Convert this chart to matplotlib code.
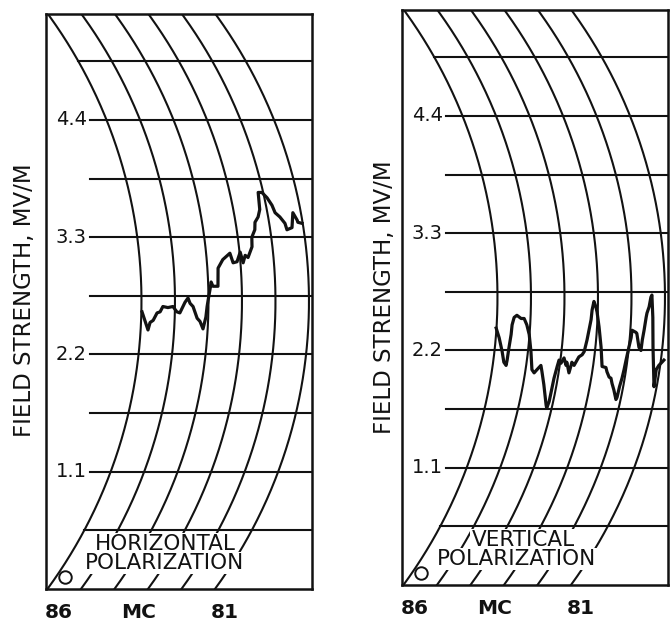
import numpy as np
import matplotlib
matplotlib.use("Agg")
import matplotlib.pyplot as plt
from matplotlib.transforms import blended_transform_factory

# ---------------- data ----------------
field_ticks = [1.1, 2.2, 3.3, 4.4]
field_tick_labels = ["1.1", "2.2", "3.3", "4.4"]
grid_levels = [0.55, 1.1, 1.65, 2.2, 2.75, 3.3, 3.85, 4.4, 4.95]
freq_marks = [86, 85, 84, 83, 82, 81]          # MC arcs of the recorder chart
bottom_labels = ["86", "MC", "81"]
bottom_label_freq = [88.47, 86.1, 83.5]

# horizontal polarization trace (frequency MC, field strength MV/M)
horiz_freq = [85.98, 85.78, 85.73, 85.64, 85.53, 85.44, 85.36, 85.21, 85.06, 84.94,
              84.85, 84.70, 84.61, 84.55, 84.46, 84.33, 84.24, 84.14, 84.07, 84.04,
              84.01, 83.95, 83.91, 83.86, 83.71, 83.68, 83.52, 83.29, 83.22, 83.10,
              82.98, 82.92, 82.84, 82.76, 82.61, 82.58, 82.46, 82.42, 82.30, 82.21,
              82.15, 82.04, 81.92, 81.82, 81.77, 81.65, 81.53, 81.50, 81.34, 81.24,
              81.15, 81.14, 81.02]
horiz_field = [2.60, 2.43, 2.50, 2.52, 2.59, 2.60, 2.65, 2.64, 2.65, 2.60,
               2.59, 2.69, 2.73, 2.68, 2.65, 2.54, 2.51, 2.44, 2.55, 2.65,
               2.71, 2.81, 2.88, 2.84, 2.84, 3.01, 3.09, 3.15, 3.06, 3.07,
               3.16, 3.06, 3.13, 3.11, 3.21, 3.30, 3.37, 3.44, 3.49, 3.56,
               3.72, 3.72, 3.67, 3.60, 3.53, 3.49, 3.43, 3.37, 3.39, 3.53,
               3.46, 3.44, 3.43]

# vertical polarization trace
vert_freq = [86.01, 85.90, 85.77, 85.68, 85.60, 85.59, 85.58, 85.55, 85.54, 85.49,
             85.41, 85.28, 85.19, 85.13, 85.10, 85.01, 84.91, 84.81, 84.73, 84.66,
             84.56, 84.50, 84.38, 84.19, 84.15, 84.12, 84.12, 84.11, 84.07, 84.04,
             83.97, 83.90, 83.81, 83.80, 83.69, 83.66, 83.65, 83.57, 83.53, 83.46,
             83.37, 83.32, 83.27, 83.19, 83.17, 83.12, 83.06, 83.02, 82.94, 82.83,
             82.73, 82.61, 82.56, 82.47, 82.41, 82.35, 82.26, 82.14, 82.12, 82.11,
             82.08, 82.06, 82.04, 82.00, 81.96, 81.95, 81.83, 81.80, 81.70, 81.63,
             81.62, 81.59, 81.55, 81.53, 81.47, 81.42, 81.39, 81.35, 81.28, 81.08,
             81.10, 81.04, 80.96, 80.91]
vert_field = [2.41, 2.32, 2.19, 2.09, 2.06, 2.11, 2.22, 2.35, 2.44, 2.51,
              2.53, 2.50, 2.50, 2.46, 2.44, 2.35, 2.19, 2.02, 1.99, 2.02,
              2.06, 2.00, 1.88, 1.69, 1.66, 1.72, 1.81, 1.94, 2.05, 2.11,
              2.08, 2.13, 2.06, 2.09, 1.99, 2.06, 2.09, 2.06, 2.09, 2.14,
              2.16, 2.19, 2.30, 2.49, 2.58, 2.66, 2.61, 2.56, 2.42, 2.23,
              2.05, 2.04, 2.00, 1.95, 1.94, 1.89, 1.83, 1.74, 1.76, 1.86,
              1.94, 2.02, 2.11, 2.23, 2.32, 2.39, 2.37, 2.36, 2.23, 2.20,
              2.30, 2.39, 2.51, 2.55, 2.61, 2.70, 2.72, 2.51, 2.23, 1.86,
              2.02, 2.06, 2.09, 2.11]

# ---------------- chart geometry ----------------
W, H = 670, 623
PX_PER_MC = 33.5
PX_PER_UNIT = 106.6
R_PX = 487.5
V_CENTER = 2.70
AX_W, AX_H = 266, 575
X_LEFT = 88.85
X_RIGHT = X_LEFT - AX_W / PX_PER_MC
Y_TOP = AX_H / PX_PER_UNIT
LINE_START = 87.55
INK = "#121212"


def arc_x(freq, v):
    dy = (np.asarray(v, dtype=float) - V_CENTER) * PX_PER_UNIT
    f = np.sqrt(R_PX ** 2 - dy ** 2) - R_PX
    return np.asarray(freq, dtype=float) - f / PX_PER_MC


fig = plt.figure(figsize=(W / 100, H / 100), dpi=100)
fig.patch.set_facecolor("white")

panels = [
    dict(left=46, bottom=589, label_x=25, label_y=300,
         title=("HORIZONTAL", "POLARIZATION"), title_freq=(85.30, 85.31),
         freq=horiz_freq, field=horiz_field),
    dict(left=402, bottom=585, label_x=385, label_y=297,
         title=("VERTICAL", "POLARIZATION"), title_freq=(85.24, 85.42),
         freq=vert_freq, field=vert_field),
]

for p in panels:
    ax = fig.add_axes([p["left"] / W, (H - p["bottom"]) / H, AX_W / W, AX_H / H])
    ax.set_xlim(X_LEFT, X_RIGHT)
    ax.set_ylim(0, Y_TOP)
    ax.set_xticks([])
    ax.set_yticks([])
    for s in ax.spines.values():
        s.set_linewidth(1.8)
        s.set_color(INK)

    # curved frequency arcs
    vv = np.linspace(0, Y_TOP, 400)
    for fm in freq_marks:
        ax.plot(arc_x(fm, vv), vv, color=INK, lw=1.5, zorder=2)

    # horizontal field-strength lines
    for lvl in grid_levels:
        start = max(LINE_START, float(arc_x(freq_marks[0], lvl)))
        ax.plot([start, X_RIGHT], [lvl, lvl], color=INK, lw=1.5, zorder=2)

    # tick labels inside the frame
    for t, lab in zip(field_ticks, field_tick_labels):
        ax.text(LINE_START + 0.08, t, lab, ha="right", va="center",
                fontsize=14, color=INK)

    # trace
    ax.plot(arc_x(p["freq"], p["field"]), p["field"], color=INK, lw=2.3,
            zorder=5, solid_joinstyle="round")

    # polarization caption
    bb = dict(facecolor="white", edgecolor="none", pad=1.0)
    ax.text(p["title_freq"][0], 0.42, p["title"][0], ha="center", va="center",
            fontsize=15.5, color=INK, bbox=bb, zorder=3)
    ax.text(p["title_freq"][1], 0.245, p["title"][1], ha="center", va="center",
            fontsize=15.5, color=INK, bbox=bb, zorder=3)

    # origin circle
    ax.plot([88.28], [0.11], "o", ms=9, mfc="white", mec=INK, mew=1.4,
            zorder=4, clip_on=False)

    # bottom labels
    tr = blended_transform_factory(ax.transData, ax.transAxes)
    for fx, lab in zip(bottom_label_freq, bottom_labels):
        ax.text(fx, -23 / AX_H, lab, transform=tr, ha="center", va="center",
                fontsize=14.5, fontweight="bold", color=INK, clip_on=False)

    fig.text(p["label_x"] / W, 1 - p["label_y"] / H, "FIELD STRENGTH, MV/M",
             rotation=90, ha="center", va="center", fontsize=16.5, color=INK)

fig.savefig("out.png", dpi=100, facecolor="white")
